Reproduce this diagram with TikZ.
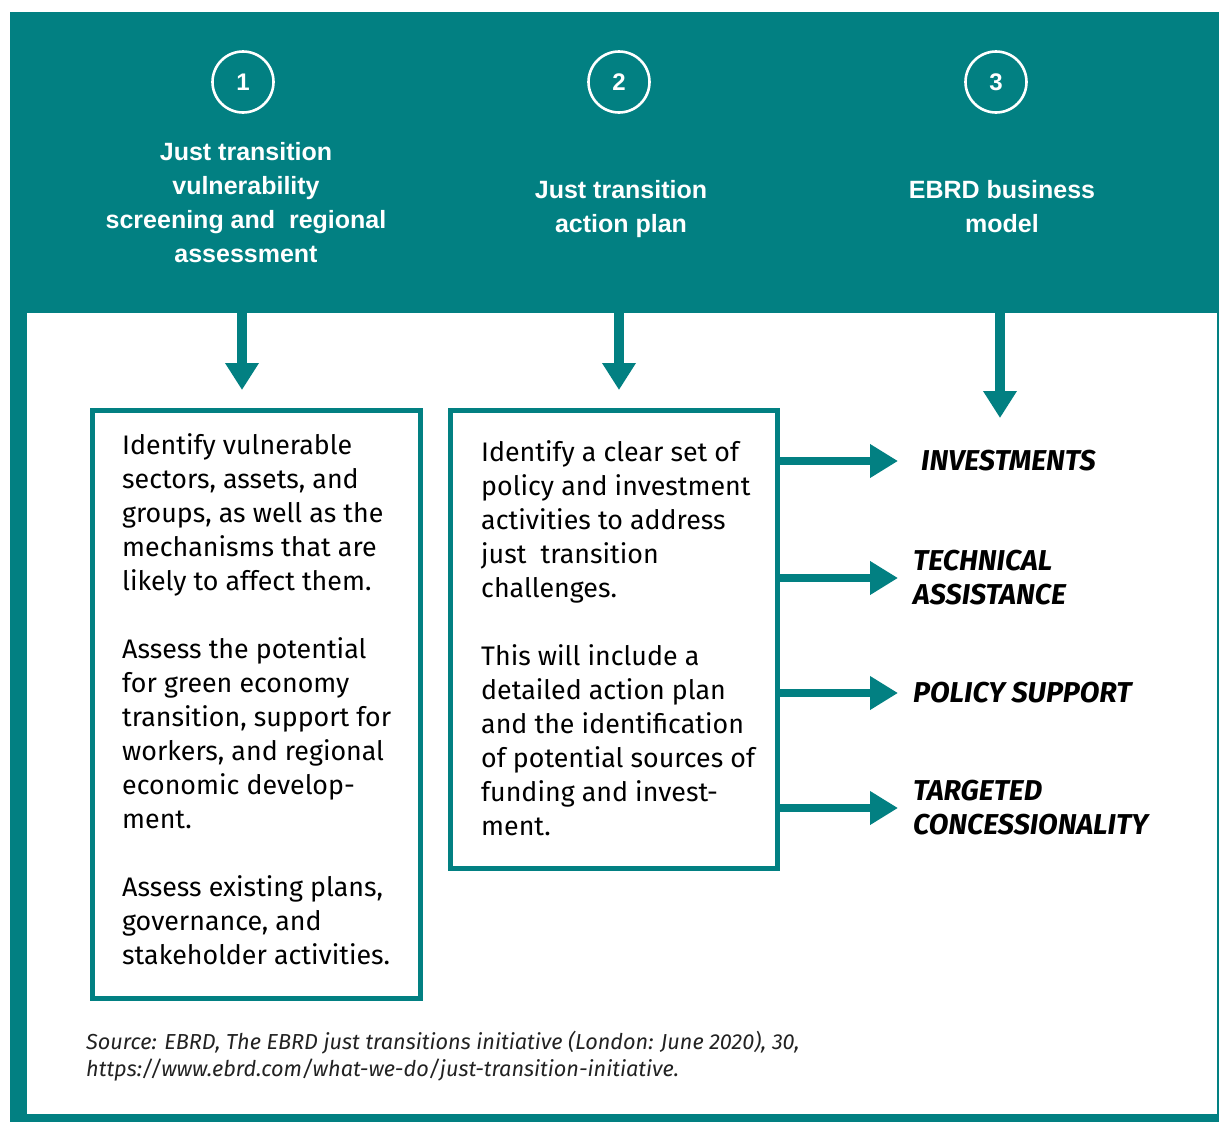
\documentclass[tikz,border=0pt]{standalone}
\usepackage{fontspec}
\setmainfont{Fira Sans}
\newfontfamily\headfont{Liberation Sans}
\usetikzlibrary{arrows.meta}
\definecolor{ebrdteal}{RGB}{2,128,130}
\definecolor{srcgray}{RGB}{34,34,34}

\tikzset{
  numcirc/.style={circle, draw=white, line width=2.6pt, minimum size=61pt,
    inner sep=0pt, text=white, font=\headfont\fontsize{24}{28}\selectfont\bfseries},
  head/.style={align=center, text=white, inner sep=0pt,
    font=\headfont\fontsize{25}{34}\selectfont\bfseries},
  stepbox/.style={draw=ebrdteal, line width=5pt, inner sep=0pt, outer sep=0pt},
  bodytext/.style={align=left, inner sep=0pt, anchor=north west,
    font=\fontsize{26.8}{34}\selectfont},
  lab/.style={align=left, inner sep=0pt, anchor=west,
    font=\fontsize{28.7}{34}\selectfont\bfseries\itshape},
  src/.style={align=left, inner sep=0pt, anchor=north west, text=srcgray,
    font=\fontsize{21.7}{27}\selectfont\itshape},
  darrow/.style={draw=ebrdteal, line width=10pt,
    -{Triangle[width=32pt,length=27pt]}},
  rarrow/.style={draw=ebrdteal, line width=8pt,
    -{Triangle[width=32pt,length=28pt]}}
}

\begin{document}
\begin{tikzpicture}[x=1pt,y=-1pt]
\useasboundingbox (0,0) rectangle (1219,1122);

% frame: teal header band and border around the white panel
\fill[ebrdteal] (10,12) rectangle (1219,1122);
\fill[white] (27,313) rectangle (1217,1114);

% numbered steps
\node[numcirc] (c1) at (243,82) {1};
\node[numcirc] (c2) at (619,82) {2};
\node[numcirc] (c3) at (996,82) {3};

\node[head] (h1) at (246,203) {Just transition\\vulnerability\\screening and~~regional\\assessment};
\node[head] (h2) at (621,209) {Just transition\\action plan};
\node[head] (h3) at (1002,207) {EBRD business\\model};

% boxes
\node[stepbox, minimum width=328pt, minimum height=588pt] (box1) at (256.5,704.5) {};
\node[stepbox, minimum width=327pt, minimum height=458pt] (box2) at (614,639.5) {};

\node[bodytext] (txt1) at (122,433) {Identify vulnerable\\sectors, assets, and\\groups, as well as the\\mechanisms that are\\likely to affect them.\\[34pt]
Assess the potential\\for green economy\\transition, support for\\workers, and regional\\economic develop-\\ment.\\[34pt]
Assess existing plans,\\governance, and\\stakeholder activities.};

\node[bodytext] (txt2) at (481,440) {Identify a clear set of\\policy and investment\\activities to address\\just~~transition\\challenges.\\[34pt]
This will include a\\detailed action plan\\and the identification\\of potential sources of\\funding and invest-\\ment.};

% arrow start points at the lower edge of the header band
\coordinate (s1) at (242,313);
\coordinate (s2) at (619,313);
\coordinate (s3) at (1000,313);
\coordinate (e3) at (1000,418);

\draw[darrow, shorten >=20.5pt] (s1) -- (s1 |- box1.north);
\draw[darrow, shorten >=20.5pt] (s2) -- (s2 |- box2.north);
\draw[darrow] (s3) -- (e3);

% EBRD instruments
\node[lab] (l1) at (921,461) {INVESTMENTS};
\node[lab] (l2) at (913,578) {TECHNICAL\\ASSISTANCE};
\node[lab] (l3) at (913,693) {POLICY SUPPORT};
\node[lab] (l4) at (913,808) {TARGETED\\CONCESSIONALITY};

\draw[rarrow, shorten >=23pt] (box2.east |- l1.west) -- (l1.west);
\draw[rarrow, shorten >=15pt] (box2.east |- l2.west) -- (l2.west);
\draw[rarrow, shorten >=15pt] (box2.east |- l3.west) -- (l3.west);
\draw[rarrow, shorten >=15pt] (box2.east |- l4.west) -- (l4.west);

% source note
\node[src] (note) at (86,1031) {Source: EBRD, The EBRD just transitions initiative (London: June 2020), 30,\\https://www.ebrd.com/what-we-do/just-transition-initiative.};
\end{tikzpicture}
\end{document}
